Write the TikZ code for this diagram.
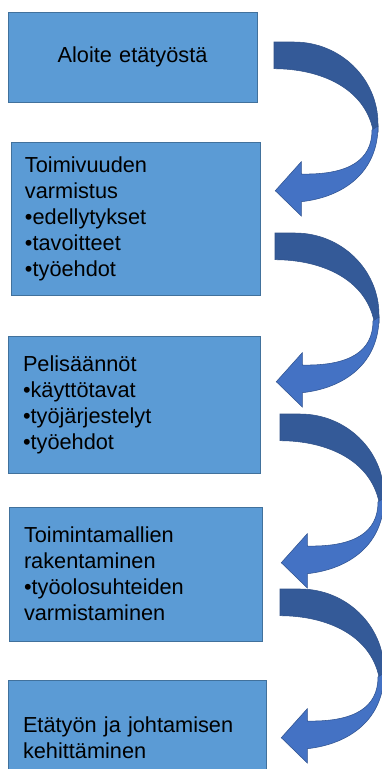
\documentclass[tikz,border=0pt]{standalone}
\usepackage{fontspec}
\setmainfont{Liberation Sans}
\definecolor{boxfill}{HTML}{5B9BD5}
\definecolor{boxline}{HTML}{41719C}
\definecolor{arrowdark}{HTML}{345A98}
\definecolor{arrowlight}{HTML}{4472C4}
\definecolor{arrowedge}{HTML}{2F528F}
\tikzset{
  stepbox/.style={draw=boxline, line width=0.75pt, fill=boxfill, align=left,
    font=\fontsize{16.3}{19.5}\selectfont, inner ysep=0pt},
  bendarrow/.pic={
    \filldraw[fill=arrowdark, draw=arrowdark!90!black, line width=0.4pt]
      (0,0) -- (20,0) .. controls (66.4,0) and (104,36.7) .. (104,82)
      -- (104,90) -- (99,88) .. controls (90,45) and (45,26.7) .. (0,26.7) -- cycle;
    \filldraw[fill=arrowlight, draw=arrowedge, line width=0.4pt]
      (98,88) .. controls (98,118) and (75,133) .. (27.3,132)
      -- (27.3,119.7) -- (1.3,148.7) -- (27.3,174) -- (27.3,159.7)
      .. controls (70,155) and (104,130) .. (104,84) -- cycle;
  }
}
\begin{document}
\begin{tikzpicture}[x=0.75pt,y=-0.75pt]
\clip (0,0) rectangle (382,769);
\fill[white] (0,0) rectangle (382,769);
\node[stepbox, align=center, text width=170pt, inner xsep=8.375pt, minimum height=67.5pt] (b1) at (132.5,57) {Aloite etätyöstä};
\node[stepbox, text width=165.75pt, inner xsep=10.5pt, minimum height=114.75pt] (b2) at (135.5,218.5) {Toimivuuden\\varmistus\\•edellytykset\\•tavoitteet\\•työehdot};
\node[stepbox, text width=166.5pt, inner xsep=11.25pt, minimum height=102.75pt] (b3) at (134,404.5) {Pelisäännöt\\•käyttötavat\\•työjärjestelyt\\•työehdot};
\node[stepbox, text width=167.25pt, inner xsep=11.25pt, minimum height=100.5pt] (b4) at (135.5,574) {Toimintamallien\\rakentaminen\\•työolosuhteiden\\varmistaminen};
\node[stepbox, text width=171pt, inner xsep=11.25pt, minimum height=87pt] (b5) at (137,738) {Etätyön ja johtamisen\\kehittäminen};
\pic (a1) at (274,42) {bendarrow};
\pic (a2) at (275,233) {bendarrow};
\pic (a3) at (280,414) {bendarrow};
\pic (a4) at (280,589) {bendarrow};
\end{tikzpicture}
\end{document}
